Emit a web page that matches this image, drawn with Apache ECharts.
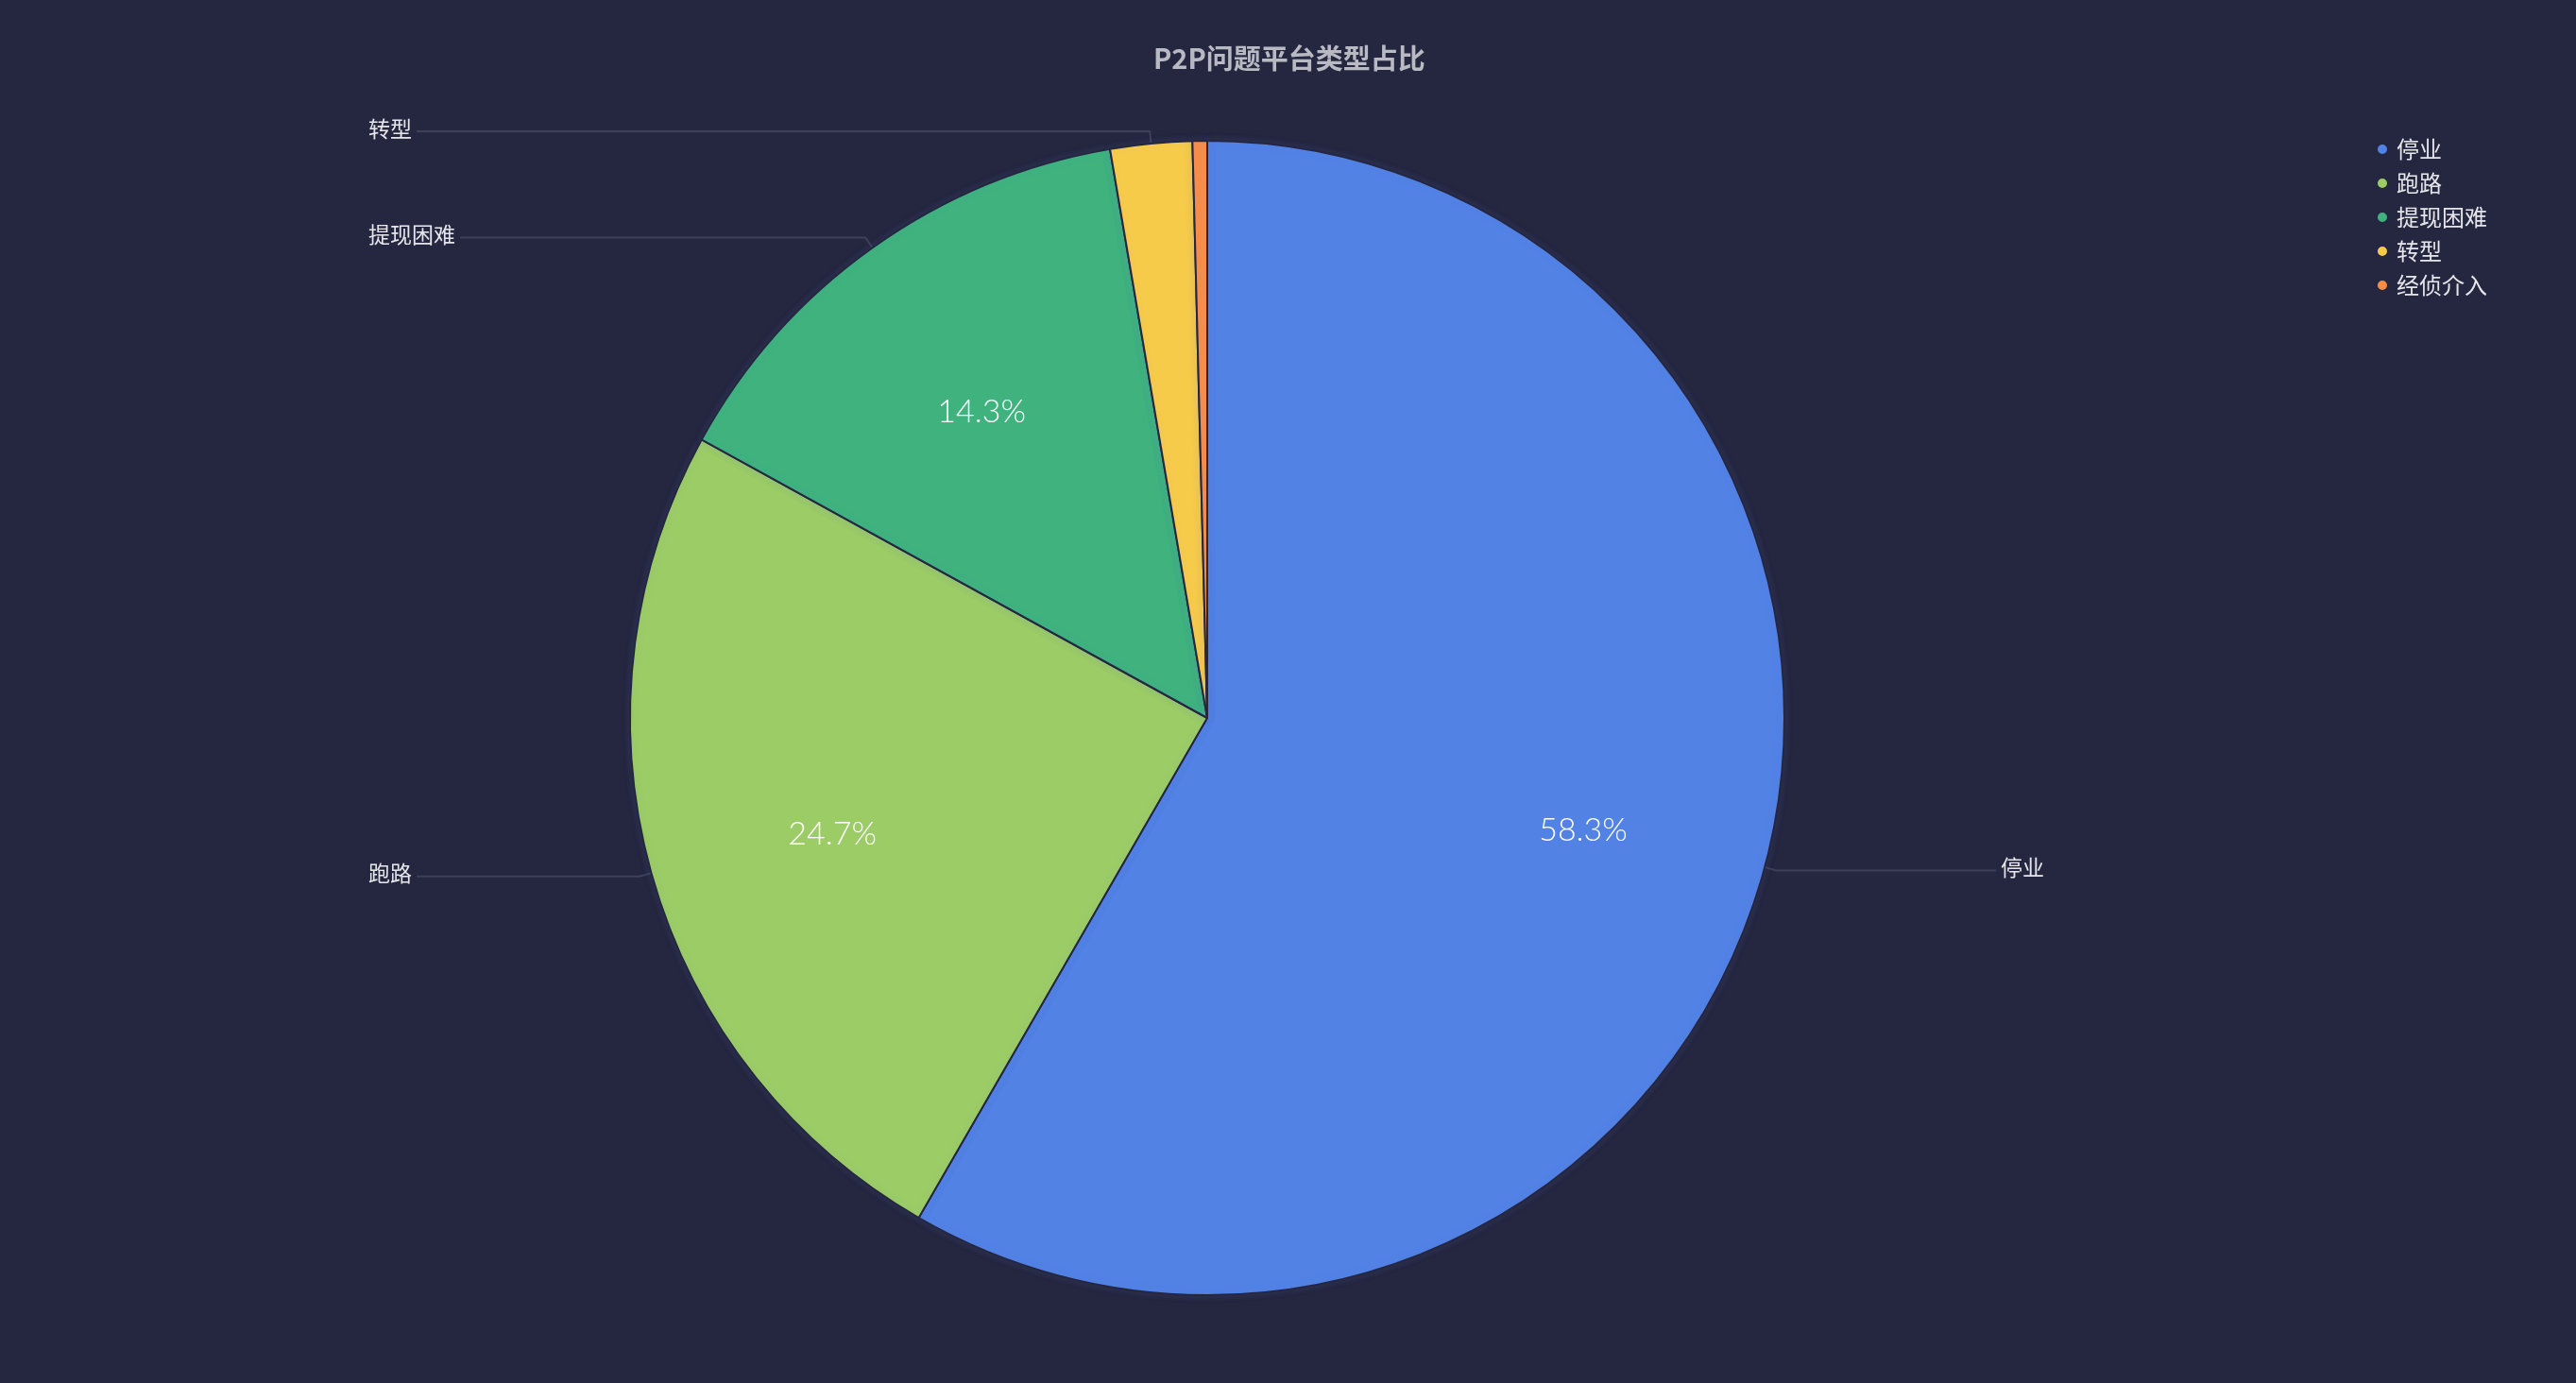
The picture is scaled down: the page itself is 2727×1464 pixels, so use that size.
<!DOCTYPE html>
<html>
<head>
<meta charset="utf-8">
<title>P2P问题平台类型占比</title>
<script src="https://cdn.jsdelivr.net/npm/echarts@6/dist/echarts.min.js"></script>
<style>
  html, body { margin: 0; padding: 0; background: #252740; }
  #main { width: 2727px; height: 1464px; }
</style>
</head>
<body>
<div id="main"></div>
<script>
// 问题平台类型（数量）
var typeNames = ['停业', '跑路', '提现困难', '转型', '经侦介入']
var typeCounts = [714, 302, 175, 28, 5]
var typeColors = ['#5182e4', '#9ccc66', '#3fb27e', '#f7cb4a', '#f88d48']

var bg = '#252740'
var myChart = echarts.init(document.getElementById('main'))

var pieData = []
for (let i = 0; i < typeNames.length; i++) {
  pieData.push({ name: typeNames[i], value: typeCounts[i] })
}
var total = typeCounts.reduce(function (a, b) { return a + b }, 0)

let option = {
  backgroundColor: bg,
  color: typeColors,
  title: {
    text: 'P2P问题平台类型占比',
    left: 1216,
    top: 42,
    textStyle: {
      color: '#b9b9c3',
      fontSize: 29,
      fontWeight: 'bold',
      fontFamily: '"Noto Sans CJK SC", sans-serif'
    }
  },
  legend: {
    orient: 'vertical',
    left: 2510,
    top: 141,
    icon: 'circle',
    itemWidth: 20,
    itemHeight: 12,
    itemGap: 12,
    data: typeNames,
    textStyle: {
      color: '#e6e6ea',
      fontSize: 24,
      fontFamily: '"Noto Sans CJK SC", sans-serif'
    }
  },
  series: [
    {
      name: '问题平台',
      type: 'pie',
      left: 0,
      top: 0,
      width: 2554,
      height: 1464,
      center: [1278, 760],
      radius: 611,
      startAngle: 90,
      clockwise: true,
      minShowLabelAngle: 2,
      avoidLabelOverlap: true,
      data: pieData,
      itemStyle: {
        borderColor: bg,
        borderWidth: 2,
        shadowBlur: 8,
        shadowColor: 'rgba(110,130,230,0.15)'
      },
      label: {
        show: true,
        position: 'outside',
        alignTo: 'edge',
        edgeDistance: 390,
        color: '#e6e6ea',
        fontSize: 23,
        fontFamily: '"Noto Sans CJK SC", sans-serif',
        formatter: '{b}'
      },
      labelLine: {
        show: true,
        length: 13,
        length2: 15,
        smooth: false,
        lineStyle: { color: '#3e4058', width: 2 }
      },
      labelLayout: { dy: -3 },
      emphasis: { scale: false }
    },
    {
      name: '占比',
      type: 'pie',
      left: 0,
      top: 0,
      width: 2554,
      height: 1464,
      center: [1278, 760],
      radius: [207, 611],
      startAngle: 90,
      clockwise: true,
      silent: true,
      z: 3,
      minShowLabelAngle: 10,
      data: pieData,
      itemStyle: { color: 'transparent', borderWidth: 0 },
      label: {
        show: true,
        position: 'inside',
        color: '#ffffff',
        fontSize: 34,
        fontWeight: 300,
        fontFamily: 'Lato, "Open Sans", sans-serif',
        formatter: function (p) {
          return (p.value / total * 100).toFixed(1) + '%'
        }
      },
      labelLayout: { dy: 12 },
      labelLine: { show: false },
      emphasis: { disabled: true }
    }
  ]
}
myChart.setOption(option)
</script>
</body>
</html>
